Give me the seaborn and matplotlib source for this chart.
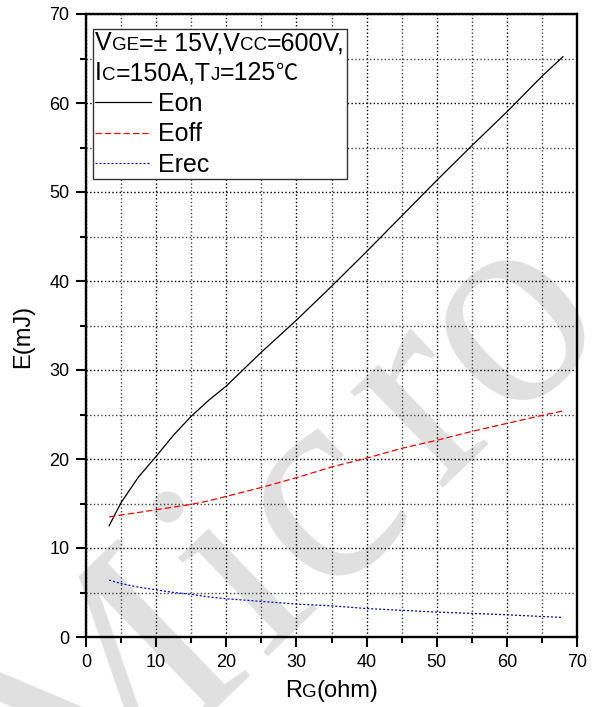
import matplotlib
matplotlib.use("Agg")
import numpy as np
import pandas as pd
import matplotlib.pyplot as plt
import seaborn as sns
from matplotlib.lines import Line2D
from matplotlib.ticker import MultipleLocator
from matplotlib.offsetbox import TextArea, HPacker, VPacker, DrawingArea, AnchoredOffsetbox

# switching energy vs gate resistance
rg = [3.3, 5, 7.5, 10, 12.5, 15, 17.5, 20, 25, 30, 35, 40, 45, 50, 55, 60, 65, 68]
eon = [12.5, 15.1, 18.0, 20.3, 22.7, 24.8, 26.6, 28.2, 32.0, 35.6, 39.4, 43.3, 47.3, 51.3, 55.2, 59.0, 63.0, 65.2]
eoff = [13.5, 13.7, 14.0, 14.3, 14.6, 14.9, 15.3, 15.8, 16.8, 17.9, 19.1, 20.1, 21.2, 22.1, 23.1, 24.0, 24.9, 25.4]
erec = [6.4, 6.0, 5.6, 5.3, 5.0, 4.8, 4.5, 4.3, 4.0, 3.7, 3.5, 3.2, 3.0, 2.8, 2.65, 2.5, 2.3, 2.2]

curve_names = ["Eon", "Eoff", "Erec"]
curve_colors = {"Eon": "black", "Eoff": "#ff0000", "Erec": "#0000ff"}
curve_dashes = {"Eon": "", "Eoff": (5, 2.5), "Erec": (1.6, 1.6)}

# watermark letters and their spacing along the slanted baseline (px from the "c")
wm_letters = ["M", "i", "c", "r", "o"]
wm_offsets = [-290, -110, 0, 141, 262]

plt.rcParams["font.family"] = ["Liberation Sans", "DejaVu Sans", "Noto Sans CJK SC"]
plt.rcParams["axes.linewidth"] = 1.7

df = pd.DataFrame({
    "RG": rg * 3,
    "E": eon + eoff + erec,
    "curve": [n for n in curve_names for _ in rg],
})

W, H = 594, 707
fig = plt.figure(figsize=(W / 100, H / 100), dpi=100)
fig.subplots_adjust(left=86 / W, right=577 / W, bottom=70 / H, top=693 / H)
ax = fig.add_subplot(111)
ax.set_facecolor("none")

# watermark behind the axes
ang = np.deg2rad(44)
bx, by = 370.5, 552.1
for letter, off in zip(wm_letters, wm_offsets):
    px = bx + off * np.cos(ang)
    py = by - off * np.sin(ang)
    fig.text(px / W, 1 - py / H, letter, fontsize=209, family="Liberation Serif",
             color="#e0e0e0", rotation=44, rotation_mode="anchor",
             ha="center", va="baseline", zorder=-1)

sns.lineplot(data=df, x="RG", y="E", hue="curve", style="curve",
             palette=curve_colors, dashes=curve_dashes, linewidth=0.9,
             estimator=None, sort=False, legend=False, ax=ax)

ax.set_xlim(0, 70)
ax.set_ylim(0, 70)
ax.xaxis.set_major_locator(MultipleLocator(10))
ax.xaxis.set_minor_locator(MultipleLocator(5))
ax.yaxis.set_major_locator(MultipleLocator(10))
ax.yaxis.set_minor_locator(MultipleLocator(5))
ax.tick_params(which="major", direction="out", length=7, width=1.5, labelsize=13, pad=5)
ax.tick_params(which="minor", direction="out", length=4.5, width=1.5)
ax.grid(True, which="major", color="black", linestyle=":", linewidth=1.0)
ax.grid(True, which="minor", color="#444444", linestyle=":", linewidth=1.0)

ax.set_xlabel("")
ax.set_ylabel("E(mJ)", fontsize=17)
ax.yaxis.set_label_coords(-0.106, 0.483)


def rich_text(parts):
    boxes = []
    for t, fs in parts:
        props = dict(fontsize=fs)
        if t == "\u2103":
            props["family"] = ["Noto Sans CJK SC", "DejaVu Sans"]
        boxes.append(TextArea(t, textprops=props))
    return HPacker(children=boxes, align="baseline", pad=0, sep=0)


big, small = 18, 13.5

# x label with the small "G"
xlab = AnchoredOffsetbox(loc="center", child=rich_text([("R", 17), ("G", small), ("(ohm)", 17)]),
                         pad=0, borderpad=0, frameon=False,
                         bbox_to_anchor=(0.5, -0.087), bbox_transform=ax.transAxes)
ax.add_artist(xlab)

# legend box
rows = [
    rich_text([("V", big), ("GE", small), ("=\u00b1 15V,V", big), ("CC", small), ("=600V,", big)]),
    rich_text([("I", big), ("C", small), ("=150A,T", big), ("J", small), ("=125", big), ("\u2103", 16)]),
]
for name in curve_names:
    da = DrawingArea(40, 12, 0, 0)
    dash = curve_dashes[name]
    ls = "-" if not dash else (0, dash)
    da.add_artist(Line2D([0, 40], [6, 6], color=curve_colors[name], linestyle=ls, linewidth=0.9))
    rows.append(HPacker(children=[da, TextArea(name, textprops=dict(fontsize=big))],
                        align="baseline", pad=0, sep=5))

box = VPacker(children=rows, align="left", pad=0, sep=4.6)
leg = AnchoredOffsetbox(loc="upper left", child=box, pad=0.15, borderpad=0, frameon=True,
                        bbox_to_anchor=(0.0143, 0.976), bbox_transform=ax.transAxes)
leg.patch.set_boxstyle("square,pad=0")
leg.patch.set_edgecolor("#333333")
leg.patch.set_linewidth(1)
leg.patch.set_facecolor("white")
leg.set_zorder(5)
ax.add_artist(leg)

fig.savefig("out.png", dpi=100)
